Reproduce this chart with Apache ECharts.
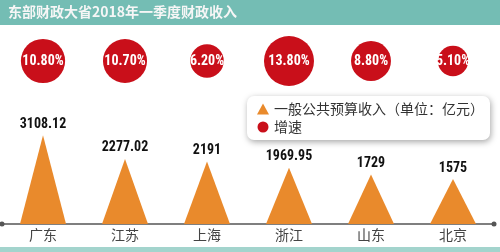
<!DOCTYPE html>
<html>
<head>
<meta charset="utf-8">
<script src="https://cdn.jsdelivr.net/npm/echarts@6/dist/echarts.min.js"></script>
<style>html,body{margin:0;padding:0;background:#fff;}#c{width:500px;height:252px;}</style>
</head>
<body>
<div id="c"></div>
<script>
const titleText = '东部财政大省2018年一季度财政收入';
const cities = ['广东', '江苏', '上海', '浙江', '山东', '北京'];
const revenue = [3108.12, 2277.02, 2191, 1969.95, 1729, 1575];
const growth = [10.8, 10.7, 6.2, 13.8, 8.8, 5.1];
const revenueName = '一般公共预算收入（单位：亿元）';
const growthName = '增速';

const chart = echarts.init(document.getElementById('c'));
chart.setOption({
  animation: false,
  backgroundColor: '#fff',
  graphic: [
    { type: 'rect', left: 0, top: 0, z: 0, shape: { width: 500, height: 25 }, style: { fill: '#74bdb4' } },
    { type: 'rect', left: 0, top: 247, z: 0, shape: { width: 500, height: 5 }, style: { fill: '#a3d4cd' } }
  ],
  title: {
    text: titleText,
    left: 0, top: 0, padding: [5, 8],
    textStyle: { fontSize: 14, color: '#f6f6f6', fontWeight: 'bold', fontFamily: 'Noto Sans CJK SC' }
  },
  legend: {
    orient: 'vertical',
    left: 247, top: 96,
    padding: [6, 6, 6, 10],
    backgroundColor: '#fff',
    borderRadius: 7,
    shadowBlur: 6, shadowColor: 'rgba(0,0,0,0.35)', shadowOffsetX: 1, shadowOffsetY: 2,
    itemWidth: 12, itemHeight: 11, itemGap: 4,
    textStyle: { fontSize: 14, color: '#333', fontFamily: 'Noto Sans CJK SC' },
    data: [{ name: revenueName, icon: 'triangle' }, { name: growthName, icon: 'circle' }]
  },
  grid: [
    { left: 2, right: 6, top: 124, height: 100 },
    { left: 2, right: 6, top: 41, height: 40 }
  ],
  xAxis: [
    {
      type: 'category', data: cities, gridIndex: 0,
      axisLine: { lineStyle: { color: '#555', width: 1.5 }, symbol: ['circle', 'circle'], symbolSize: [5, 5] },
      axisTick: { show: false },
      axisLabel: { fontSize: 14, color: '#444', margin: 4, fontFamily: 'Noto Sans CJK SC' }
    },
    { type: 'category', data: cities, gridIndex: 1, show: false }
  ],
  yAxis: [
    { type: 'value', min: 0, max: 3500, gridIndex: 0, show: false, splitLine: { show: false } },
    { type: 'category', data: [growthName], gridIndex: 1, show: false }
  ],
  series: [
    {
      name: revenueName,
      type: 'pictorialBar',
      xAxisIndex: 0, yAxisIndex: 0,
      symbol: 'triangle',
      symbolSize: [46, '100%'],
      data: revenue,
      z: 1,
      itemStyle: { color: '#e98a2c' },
      label: {
        show: true, position: 'top', distance: 4,
        fontSize: 14, fontWeight: 'bold', color: '#111',
        fontFamily: 'Roboto Condensed'
      }
    },
    {
      name: growthName,
      type: 'scatter',
      xAxisIndex: 1, yAxisIndex: 1,
      data: growth.map((g, i) => ({ value: [cities[i], growthName, g] })),
      symbolSize: v => 13.46 * Math.sqrt(v[2]),
      itemStyle: { color: '#c90f1a', opacity: 1 },
      label: {
        show: true, position: 'inside',
        formatter: p => p.value[2].toFixed(2) + '%',
        fontSize: 14, fontWeight: 'bold', color: '#fff',
        fontFamily: 'Roboto Condensed'
      }
    }
  ]
});
</script>
</body>
</html>
